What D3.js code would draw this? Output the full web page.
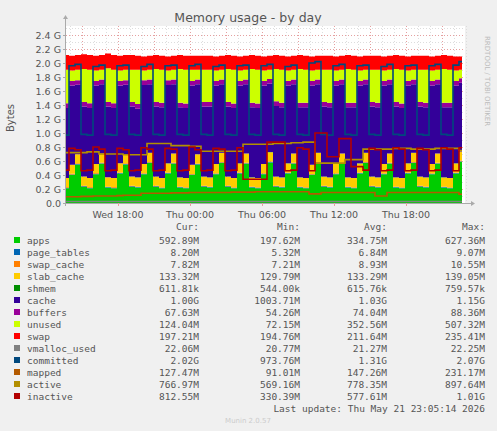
<!DOCTYPE html>
<html><head><meta charset="utf-8">
<script src="https://cdn.jsdelivr.net/npm/d3@7"></script>
<style>body{margin:0;background:#f0f0f0}svg{display:block}</style>
</head><body><svg id="c" width="497" height="431"></svg>
<script>
// samples every 30 minutes, starting Wed 13:40; values in GiB
const startHour = 13 + 40/60;
const apps = [.21,.40,.55,.23,.21,.41,.56,.22,.21,.42,.55,.23,.22,.41,.57,.23,.21,.42,.56,.22,.21,.40,.55,.23,.22,.41,.57,.23,.21,.42,.56,.22,.21,.41,.58,.23,.22,.42,.56,.22,.21,.40,.57,.23,.22,.41,.56,.22,.21,.42,.57,.23,.22,.41,.56,.22,.21,.42,.57,.23,.22,.41,.56,.22,.21,.42,.59];
const pageTables = [.008,.008,.008,.008,.008,.008,.008,.008,.008,.008,.008,.008,.008,.008,.008,.008,.008,.008,.008,.008,.008,.008,.008,.008,.008,.008,.008,.008,.008,.008,.008,.008,.008,.008,.008,.008,.008,.008,.008,.008,.008,.008,.008,.008,.008,.008,.008,.008,.008,.008,.008,.008,.008,.008,.008,.008,.008,.008,.008,.008,.008,.008,.008,.008,.008,.008,.008];
const swapCache = [.009,.009,.009,.009,.009,.009,.009,.009,.009,.009,.009,.009,.008,.008,.008,.008,.008,.008,.008,.008,.008,.008,.008,.008,.008,.008,.008,.008,.008,.008,.008,.008,.008,.008,.008,.008,.008,.008,.008,.008,.008,.008,.008,.008,.008,.008,.008,.008,.008,.008,.008,.008,.008,.008,.008,.008,.008,.008,.008,.008,.008,.008,.008,.008,.008,.008,.008];
const slabCache = [.13,.13,.13,.13,.13,.13,.13,.13,.13,.13,.13,.13,.13,.13,.13,.13,.13,.13,.13,.13,.13,.13,.13,.13,.13,.13,.13,.13,.13,.13,.13,.13,.13,.13,.13,.13,.13,.13,.13,.13,.13,.13,.13,.13,.13,.13,.13,.13,.13,.13,.13,.13,.13,.13,.13,.13,.13,.13,.13,.13,.13,.13,.13,.13,.13,.13,.13];
const shmem = [.001,.001,.001,.001,.001,.001,.001,.001,.001,.001,.001,.001,.001,.001,.001,.001,.001,.001,.001,.001,.001,.001,.001,.001,.001,.001,.001,.001,.001,.001,.001,.001,.001,.001,.001,.001,.001,.001,.001,.001,.001,.001,.001,.001,.001,.001,.001,.001,.001,.001,.001,.001,.001,.001,.001,.001,.001,.001,.001,.001,.001,.001,.001,.001,.001,.001,.001];
const cache = [1.00,1.13,.99,1.00,1.00,1.12,.99,1.01,1.00,1.11,.99,1.00,.98,1.13,.98,1.00,1.01,1.12,.99,1.00,1.00,1.13,1.00,1.00,1.01,1.12,.98,1.00,1.00,1.11,.99,1.00,1.00,1.12,.98,1.01,1.00,1.11,.99,1.00,1.01,1.13,.98,1.00,1.00,1.12,.99,1.00,1.01,1.11,.98,1.00,1.00,1.12,.99,1.01,1.00,1.11,.98,1.00,1.00,1.12,.99,1.00,1.01,1.11,.98];
const buffers = [.066,.066,.066,.066,.066,.066,.066,.066,.066,.066,.066,.066,.066,.066,.066,.066,.066,.066,.066,.066,.066,.066,.066,.066,.066,.066,.066,.066,.066,.066,.066,.066,.066,.066,.066,.066,.066,.066,.066,.066,.066,.066,.066,.066,.066,.066,.066,.066,.066,.066,.066,.066,.066,.066,.066,.066,.066,.066,.066,.066,.066,.066,.066,.066,.066,.066,.066];
const unused = [.48,.15,.15,.47,.48,.15,.14,.48,.48,.15,.15,.46,.49,.14,.14,.47,.47,.14,.14,.48,.48,.16,.14,.46,.46,.15,.14,.47,.48,.15,.14,.48,.48,.15,.13,.46,.47,.15,.14,.48,.47,.15,.14,.46,.47,.15,.14,.48,.47,.15,.14,.46,.47,.15,.14,.47,.48,.15,.14,.46,.47,.15,.14,.48,.47,.15,.12];
const swap = [.21,.21,.21,.21,.21,.21,.21,.21,.21,.21,.21,.21,.20,.20,.20,.20,.20,.20,.20,.20,.20,.20,.20,.20,.20,.20,.20,.20,.20,.20,.20,.20,.20,.20,.20,.20,.20,.20,.20,.20,.20,.20,.20,.20,.20,.20,.20,.20,.20,.20,.20,.20,.20,.20,.20,.20,.20,.20,.20,.20,.20,.20,.20,.20,.20,.20,.19];
const vmallocUsed = [.021,.021,.021,.021,.021,.021,.021,.021,.021,.021,.021,.021,.021,.021,.021,.021,.021,.021,.021,.021,.021,.021,.021,.021,.021,.021,.021,.021,.021,.021,.021,.021,.021,.021,.021,.021,.021,.021,.021,.021,.021,.021,.021,.021,.021,.021,.021,.021,.021,.021,.021,.021,.021,.021,.021,.021,.021,.021,.021,.021,.021,.021,.021,.021,.021,.021,.022];
const committed = [.97,1.96,1.98,.98,.97,1.95,1.97,.98,.97,1.96,1.97,.98,.97,1.95,1.98,.98,.97,1.96,1.97,.98,.97,1.96,1.98,.98,.97,1.95,1.97,.98,.97,1.96,1.97,.98,.97,1.96,1.98,.98,.97,1.95,1.97,.98,.97,2.00,2.02,.98,.97,1.96,1.98,.98,.97,1.96,1.97,.98,.97,1.95,1.98,.98,.97,1.96,1.97,.98,.97,1.96,1.98,.98,.97,1.97,2.02];
const mapped = [.09,.09,.09,.095,.095,.10,.10,.10,.10,.105,.11,.11,.11,.14,.14,.14,.14,.14,.145,.145,.145,.15,.15,.15,.15,.15,.15,.15,.155,.155,.155,.155,.16,.16,.16,.16,.16,.16,.16,.16,.16,.13,.13,.15,.15,.15,.15,.15,.15,.15,.15,.15,.10,.10,.15,.15,.15,.15,.15,.15,.15,.15,.15,.15,.15,.15,.125];
const active = [.72,.72,.72,.72,.73,.73,.70,.70,.70,.70,.69,.69,.69,.69,.85,.85,.85,.85,.82,.82,.82,.81,.81,.74,.74,.74,.74,.74,.74,.74,.84,.84,.84,.84,.84,.85,.85,.85,.86,.86,.87,.87,.57,.57,.57,.57,.57,.62,.62,.62,.77,.77,.77,.77,.77,.78,.78,.78,.77,.77,.77,.77,.78,.78,.78,.78,.75];
const inactive = [.47,.78,.76,.46,.47,.80,.77,.46,.47,.78,.76,.46,.47,.79,.77,.46,.47,.78,.77,.46,.47,.80,.76,.46,.47,.78,.77,.46,.47,.79,.34,.34,.34,.34,.87,.87,.87,.46,.47,.79,.77,.46,1.00,1.00,.66,.66,.92,.92,.52,.52,.47,.78,.76,.46,.47,.79,.77,.46,.47,.78,.76,.46,.47,.79,.77,.46,.79];
const yTicks = [0,.2,.4,.6,.8,1.0,1.2,1.4,1.6,1.8,2.0,2.2,2.4];
const xTickHours = [18,24,30,36,42];
const xTickLabels = ["Wed 18:00","Thu 00:00","Thu 06:00","Thu 12:00","Thu 18:00"];
const stackNames = ["apps","page_tables","swap_cache","slab_cache","shmem","cache","buffers","unused","swap"];
const stackSeries = [apps,pageTables,swapCache,slabCache,shmem,cache,buffers,unused,swap];
const stackColors = ["#00cc00","#0066b3","#ff8000","#ffcc00","#008f00","#330099","#990099","#ccff00","#ff0000"];
const lineSeries = [vmallocUsed,committed,mapped,active,inactive];
const lineColors = ["#808080","#00487d","#b35a00","#b38f00","#b30000"];
const legendNames = ["apps","page_tables","swap_cache","slab_cache","shmem","cache","buffers","unused","swap","vmalloc_used","committed","mapped","active","inactive"];
const legendColors = stackColors.concat(lineColors);
const curVals = ["592.89M","8.20M","7.82M","133.32M","611.81k","1.00G","67.63M","124.04M","197.21M","22.06M","2.02G","127.47M","766.97M","812.55M"];
const minVals = ["197.62M","5.32M","7.21M","129.79M","544.00k","1003.71M","54.26M","72.15M","194.76M","20.77M","973.76M","91.01M","569.16M","330.39M"];
const avgVals = ["334.75M","6.84M","8.93M","133.29M","615.76k","1.03G","74.04M","352.56M","211.64M","21.27M","1.31G","147.26M","778.35M","577.61M"];
const maxVals = ["627.36M","9.07M","10.55M","139.05M","759.57k","1.15G","88.36M","507.32M","235.41M","22.25M","2.07G","231.17M","897.64M","1.01G"];

const svg = d3.select("#c");
const L=66,R=465,T=26,B=203;
const hours = apps.map((d,i)=>startHour+i*0.5);
const x = d3.scaleLinear().domain([startHour, startHour+(R-L)/12]).range([L,R]);
const y = d3.scaleLinear().domain([0,2.4]).range([B,B-168]);
svg.append("rect").attr("x",L).attr("y",T).attr("width",R-L).attr("height",B-T).attr("fill","#fff");
const g = svg.append("g");
for(let v=0.1; v<=2.55; v+=0.1){ if(y(v)<T) break;
  const major = Math.round(v*10)%2===0;
  g.append("line").attr("x1",L).attr("x2",R).attr("y1",Math.round(y(v))+.5).attr("y2",Math.round(y(v))+.5)
   .attr("stroke",major?"#e5a0a0":"#ddd").attr("stroke-dasharray","1,2");}
for(let h=14; h<=47; h++){
  const red = h%3===0;
  g.append("line").attr("y1",T).attr("y2",B).attr("x1",Math.round(x(h))+.5).attr("x2",Math.round(x(h))+.5)
   .attr("stroke",red?"#e5a0a0":"#ddd").attr("stroke-dasharray","1,2");}
const rows = hours.map((h,i)=>{const o={h}; stackNames.forEach((n,k)=>o[n]=stackSeries[k][i]); return o;});
const stacked = d3.stack().keys(stackNames)(rows);
const area = d3.area().curve(d3.curveStep).x(d=>x(d.data.h)).y0(d=>y(d[0])).y1(d=>y(d[1]));
stacked.forEach((s,k)=>svg.append("path").attr("d",area(s)).attr("fill",stackColors[k]));
const line = d3.line().curve(d3.curveStep).x((d,i)=>x(hours[i])).y(d=>y(d));
lineSeries.forEach((s,k)=>svg.append("path").attr("d",line(s)).attr("fill","none").attr("stroke",lineColors[k]).attr("stroke-width",1.6));
svg.append("line").attr("x1",L).attr("x2",R+6).attr("y1",B+.5).attr("y2",B+.5).attr("stroke","#aaa");
svg.append("line").attr("x1",L-.5).attr("x2",L-.5).attr("y1",B+3).attr("y2",T-8).attr("stroke","#aaa");
svg.append("path").attr("d",`M${R+6},${B-2}L${R+10},${B+.5}L${R+6},${B+3}Z`).attr("fill","#aaa");
svg.append("path").attr("d",`M${L-3},${T-7}L${L-.5},${T-11}L${L+2},${T-7}Z`).attr("fill","#aaa");
const font="DejaVu Sans, sans-serif";
yTicks.forEach(v=>{
  svg.append("line").attr("x1",L-3).attr("x2",L).attr("y1",Math.round(y(v))+.5).attr("y2",Math.round(y(v))+.5).attr("stroke","#aaa");
  svg.append("text").attr("x",L-5).attr("y",y(v)+3.5).attr("text-anchor","end").attr("font-family",font).attr("font-size",9.5).attr("fill","#555").text(v.toFixed(1)+(v===0?"":" G"));
});
xTickHours.forEach((h,i)=>{
  svg.append("line").attr("x1",Math.round(x(h))+.5).attr("x2",Math.round(x(h))+.5).attr("y1",B).attr("y2",B+3).attr("stroke","#e5a0a0");
  svg.append("text").attr("x",x(h)).attr("y",B+15).attr("text-anchor","middle").attr("font-family",font).attr("font-size",9.5).attr("fill","#555").text(xTickLabels[i]);
});
svg.append("text").attr("x",248).attr("y",22).attr("text-anchor","middle").attr("font-family",font).attr("font-size",12.5).attr("fill","#555").text("Memory usage - by day");
svg.append("text").attr("transform","translate(14,118) rotate(-90)").attr("text-anchor","middle").attr("font-family",font).attr("font-size",10).attr("fill","#555").text("Bytes");
svg.append("text").attr("transform","translate(485,36) rotate(90)").attr("font-family",font).attr("font-size",7).attr("fill","#bbb").text("RRDTOOL / TOBI OETIKER");
const mono="DejaVu Sans Mono, monospace";
const hdr=[["Cur:",199],["Min:",300],["Avg:",387],["Max:",485]];
hdr.forEach(([t,xx])=>svg.append("text").attr("x",xx).attr("y",230).attr("text-anchor","end").attr("font-family",mono).attr("font-size",9.5).attr("fill","#555").text(t));
legendNames.forEach((n,i)=>{
  const yy=240+i*12;
  svg.append("rect").attr("x",14).attr("y",yy-3).attr("width",6).attr("height",6).attr("fill",legendColors[i]);
  svg.append("text").attr("x",27).attr("y",yy+3.5).attr("font-family",mono).attr("font-size",9.5).attr("fill","#555").text(n);
  [[curVals,199],[minVals,300],[avgVals,387],[maxVals,485]].forEach(([arr,xx])=>
    svg.append("text").attr("x",xx).attr("y",yy+3.5).attr("text-anchor","end").attr("font-family",mono).attr("font-size",9.5).attr("fill","#555").text(arr[i]));
});
svg.append("text").attr("x",485).attr("y",412).attr("text-anchor","end").attr("font-family",mono).attr("font-size",9.5).attr("fill","#555").text("Last update: Thu May 21 23:05:14 2026");
svg.append("text").attr("x",248).attr("y",423).attr("text-anchor","middle").attr("font-family",font).attr("font-size",7).attr("fill","#ccc").text("Munin 2.0.57");
</script></body></html>
